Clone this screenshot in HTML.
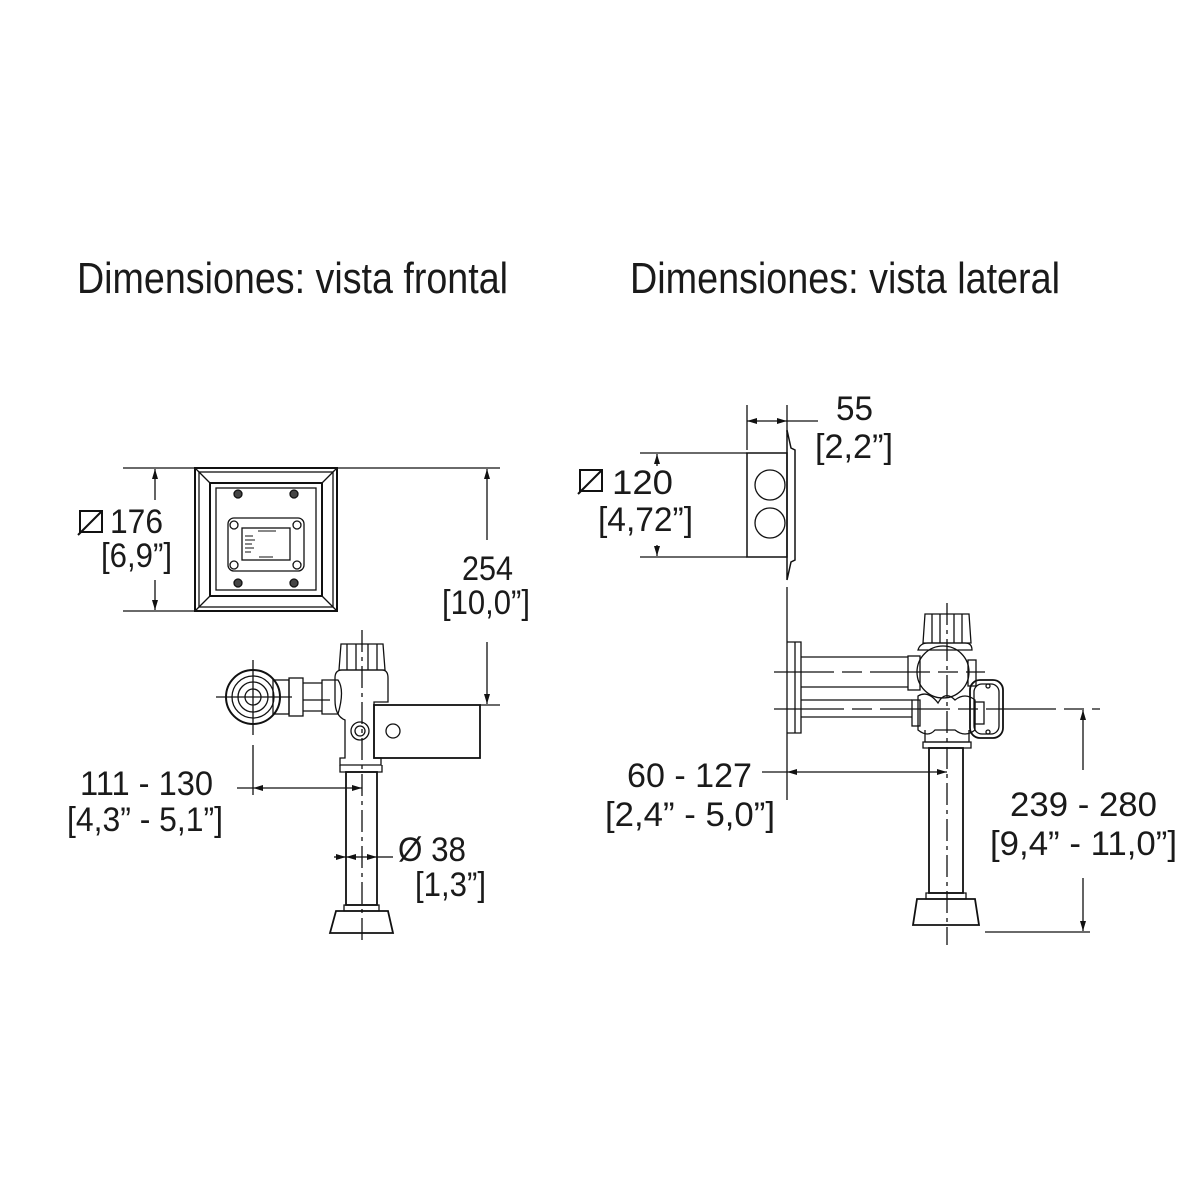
<!DOCTYPE html>
<html><head><meta charset="utf-8"><style>
html,body{margin:0;padding:0;background:#fff}
svg{display:block}
text{font-family:"Liberation Sans",sans-serif;fill:#1a1a1a}
</style></head><body>
<svg width="1200" height="1200" viewBox="0 0 1200 1200" xmlns="http://www.w3.org/2000/svg">
<defs>
<marker id="ar" viewBox="0 0 10 6" refX="10" refY="3" markerWidth="10" markerHeight="6" orient="auto-start-reverse" markerUnits="userSpaceOnUse"><path d="M0,0 L10,3 L0,6 z" fill="#111"/></marker>
</defs>
<text x="77" y="293" font-size="44" textLength="431" lengthAdjust="spacingAndGlyphs">Dimensiones: vista frontal</text>
<text x="630" y="293" font-size="44" textLength="430" lengthAdjust="spacingAndGlyphs">Dimensiones: vista lateral</text>

<g stroke="#111" fill="none" stroke-width="1.3">
<!-- FRONT VIEW -->
<rect x="195" y="468" width="142" height="143" stroke-width="2"/>
<rect x="199" y="472" width="134" height="135"/>
<rect x="210" y="483" width="112" height="113" stroke-width="2"/>
<rect x="216" y="488" width="100" height="102"/>
<path d="M195,468 L210,483 M337,468 L322,483 M195,611 L210,596 M337,611 L322,596"/>
<circle cx="238" cy="494" r="4" fill="#444"/><circle cx="294" cy="494" r="4" fill="#444"/>
<circle cx="238" cy="583" r="4" fill="#444"/><circle cx="294" cy="583" r="4" fill="#444"/>
<rect x="228" y="518" width="76" height="53" rx="6"/>
<rect x="242" y="528" width="48" height="32"/>
<circle cx="234" cy="525" r="4"/><circle cx="297" cy="525" r="4"/>
<circle cx="234" cy="565" r="4"/><circle cx="297" cy="565" r="4"/>
<path d="M258,531 h18 M245,536 h8 M245,540 h10 M245,544 h7 M245,548 h9 M245,552 h6 M259,557 h14" stroke-width="1"/>
<path d="M123,468 H195 M123,611 H195 M337,468 H500" />
<path d="M155,500 V469" marker-end="url(#ar)"/>
<path d="M155,580 V610" marker-end="url(#ar)"/>
<rect x="80" y="511" width="22" height="21" stroke-width="2"/>
<path d="M78,535 L102,511" stroke-width="2"/>
<path d="M487,540 V469" marker-end="url(#ar)"/>
<path d="M487,642 V704" marker-end="url(#ar)"/>
<path d="M480,705 H500"/>
<path d="M362,630 V940" stroke-dasharray="22,5,4,5"/>
<path d="M339,670 L341,644 H383 L385,670 Z M347,644 V670 M356,644 V670 M368,644 V670 M377,644 V670"/>
<path d="M335,678 Q335,670 342,670 H382 Q388,670 388,678 V702 H374 V758 H381 V765 H340 V758 H345 V720 Q335,716 335,700 Z"/>
<path d="M340,765 V772 H382 V765"/>
<rect x="374" y="705" width="106" height="53" stroke-width="1.8"/>
<circle cx="393" cy="731" r="7"/>
<circle cx="360" cy="731" r="9"/><circle cx="360" cy="731" r="5"/>
<path d="M216,697 H292 M253,660 V735"/>
<circle cx="253" cy="697" r="27" stroke-width="2"/>
<circle cx="253" cy="697" r="21"/>
<circle cx="253" cy="697" r="15"/>
<circle cx="253" cy="697" r="8"/>
<rect x="273" y="680" width="16" height="34"/>
<rect x="289" y="678" width="14" height="38"/>
<path d="M303,683 H322 M303,711 H322 M303,700 H330"/>
<path d="M322,680 H338 Q345,690 338,714 H322 Z"/>
<rect x="346" y="772" width="31" height="133" stroke-width="1.8"/>
<path d="M344,905 H379 V911 H344 Z"/>
<path d="M336,911 H388 L393,933 H330 Z" stroke-width="1.8"/>
<path d="M253,745 V795 M237,788 H253"/>
<path d="M253,788 H362" marker-start="url(#ar)" marker-end="url(#ar)"/>
<path d="M346,857 H334" marker-start="url(#ar)"/>
<path d="M362,857 H346" marker-end="url(#ar)"/>
<path d="M362,857 H377" marker-end="url(#ar)"/>
<path d="M377,857 H393"/>

<!-- SIDE VIEW -->
<rect x="747" y="453" width="40" height="104" stroke-width="1.5"/>
<circle cx="770" cy="485" r="15"/><circle cx="770" cy="523" r="15"/>
<path d="M787,430 L791,448 L795,450 V560 L791,562 L787,580 Z" stroke-width="1.5"/>
<path d="M787,587 V800"/>
<path d="M747,405 V450 M787,405 V432"/>
<path d="M747,421 H787" marker-start="url(#ar)" marker-end="url(#ar)"/>
<path d="M787,421 H818"/>
<path d="M640,453 H747 M640,557 H747"/>
<path d="M657,466 V454" marker-end="url(#ar)"/>
<path d="M657,545 V556" marker-end="url(#ar)"/>
<rect x="580" y="470" width="22" height="21" stroke-width="2"/>
<path d="M578,494 L602,470" stroke-width="2"/>
<path d="M787,642 H801 V733 H787 M795,642 V733"/>
<path d="M801,657 H908 M801,687 H908 M801,700 H912 M801,717 H912"/>
<path d="M774,672 H985" stroke-dasharray="60,8,20,8"/>
<path d="M774,709 H1100" stroke-dasharray="70,8,20,8"/>
<path d="M947,603 V945" stroke-dasharray="22,5,4,5"/>
<path d="M923,643 L925,614 H969 L971,643 Z M932,614 V643 M940,614 V643 M954,614 V643 M962,614 V643"/>
<path d="M918,650 Q920,643 928,643 H965 Q972,643 972,650 Z"/>
<circle cx="943" cy="672" r="26"/>
<rect x="908" y="656" width="12" height="34"/>
<rect x="968" y="660" width="8" height="26"/>
<path d="M918,696 Q928,690 938,703 Q945,690 955,700 Q965,692 975,700 V730 Q965,738 955,730 H935 Q928,738 918,730 Z"/>
<rect x="912" y="700" width="8" height="26"/>
<rect x="975" y="702" width="9" height="22"/>
<rect x="970" y="680" width="33" height="58" rx="10" stroke-width="1.8"/>
<rect x="974" y="684" width="25" height="50" rx="8"/>
<circle cx="988" cy="686" r="2"/><circle cx="988" cy="732" r="2"/>
<path d="M925,730 V742 H969 V730"/>
<path d="M923,742 H971 V748 H923 Z"/>
<rect x="929" y="748" width="34" height="145" stroke-width="1.8"/>
<path d="M926,893 H966 V899 H926 Z"/>
<path d="M917,899 H975 L979,925 H913 Z" stroke-width="1.8"/>
<path d="M762,772 H787"/>
<path d="M787,772 H947" marker-start="url(#ar)" marker-end="url(#ar)"/>
<path d="M985,932 H1090"/>
<path d="M1083,770 V710" marker-end="url(#ar)"/>
<path d="M1083,878 V931" marker-end="url(#ar)"/>
</g>

<g font-size="34">
<text x="110" y="533" textLength="53" lengthAdjust="spacingAndGlyphs">176</text>
<text x="101" y="567" textLength="71" lengthAdjust="spacingAndGlyphs">[6,9”]</text>
<text x="462" y="580" textLength="51" lengthAdjust="spacingAndGlyphs">254</text>
<text x="442" y="614" textLength="88" lengthAdjust="spacingAndGlyphs">[10,0”]</text>
<text x="80" y="795" textLength="133" lengthAdjust="spacingAndGlyphs">111 - 130</text>
<text x="67" y="831" textLength="156" lengthAdjust="spacingAndGlyphs">[4,3” - 5,1”]</text>
<text x="398" y="861" textLength="68" lengthAdjust="spacingAndGlyphs">Ø 38</text>
<text x="415" y="896" textLength="71" lengthAdjust="spacingAndGlyphs">[1,3”]</text>
<text x="836" y="420" textLength="37" lengthAdjust="spacingAndGlyphs">55</text>
<text x="815" y="458" textLength="78" lengthAdjust="spacingAndGlyphs">[2,2”]</text>
<text x="612" y="494" textLength="61" lengthAdjust="spacingAndGlyphs">120</text>
<text x="598" y="531" textLength="95" lengthAdjust="spacingAndGlyphs">[4,72”]</text>
<text x="627" y="787" textLength="125" lengthAdjust="spacingAndGlyphs">60 - 127</text>
<text x="605" y="826" textLength="170" lengthAdjust="spacingAndGlyphs">[2,4” - 5,0”]</text>
<text x="1010" y="816" textLength="147" lengthAdjust="spacingAndGlyphs">239 - 280</text>
<text x="990" y="855" textLength="187" lengthAdjust="spacingAndGlyphs">[9,4” - 11,0”]</text>
</g>
</svg>
</body></html>
